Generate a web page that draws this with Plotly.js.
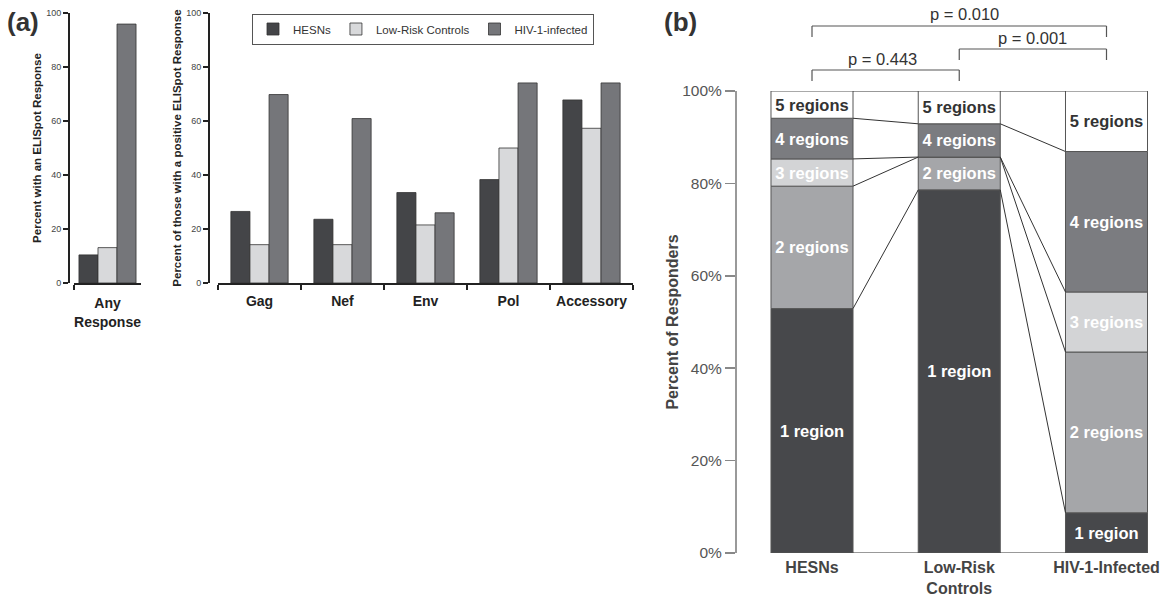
<!DOCTYPE html>
<html>
<head>
<meta charset="utf-8">
<script src="https://cdn.plot.ly/plotly-3.0.1.min.js"></script>
<style>html,body{margin:0;padding:0;background:#fff;}#chart{width:1168px;height:596px;}</style>
</head>
<body>
<div id="chart"></div>
<script>
// ---------- data ----------
const groupNames = ['HESNs', 'Low-Risk Controls', 'HIV-1-infected'];
const anyCategory = ['Any<br>Response'];
const anyHESN = [10.4];
const anyLow = [13.1];
const anyHIV = [95.9];

const proteinCategories = ['Gag', 'Nef', 'Env', 'Pol', 'Accessory'];
const proteinHESN = [26.5, 23.6, 33.5, 38.3, 67.8];
const proteinLow = [14.2, 14.2, 21.5, 50.0, 57.3];
const proteinHIV = [69.8, 60.9, 26.0, 74.1, 74.1];
const countTicks = [0, 20, 40, 60, 80, 100];

const cohortLabels = ['HESNs', 'Low-Risk<br>Controls', 'HIV-1-Infected'];
const regionLabels = ['1 region', '2 regions', '3 regions', '4 regions', '5 regions'];
// percent of responders per cohort (HESNs, Low-Risk Controls, HIV-1-Infected)
const regions1 = [52.9, 78.6, 8.7];
const regions2 = [26.5, 7.1, 34.8];
const regions3 = [5.9, 0.0, 13.0];
const regions4 = [8.8, 7.2, 30.4];
const regions5 = [5.9, 7.1, 13.1];
const percentTicks = [0, 20, 40, 60, 80, 100];
const percentTickLabels = ['0%', '20%', '40%', '60%', '80%', '100%'];

const pLabels = ['p = 0.443', 'p = 0.001', 'p = 0.010'];
const pPairs = [[0, 1], [1, 2], [0, 2]];

// ---------- styles ----------
const FONT = 'Liberation Sans, Arial, sans-serif';
const groupColors = ['#444548', '#d8d9db', '#75767a'];
const regionColors = ['#47484b', '#a5a6a9', '#d3d4d6', '#7b7c80', '#ffffff'];
const regionTextColors = ['#ffffff', '#ffffff', '#ffffff', '#ffffff', '#333333'];
const W = 1168, H = 596;
const px = v => v / W;
const py = v => 1 - v / H;

const traces = [];
const groupSeries = [anyHESN, anyLow, anyHIV];
const proteinSeries = [proteinHESN, proteinLow, proteinHIV];
const anyWidth = 0.284;
const anyOffsets = [-0.426, -0.142, 0.142];

for (let g = 0; g < 3; g++) {
  traces.push({
    type: 'bar', x: anyCategory, y: groupSeries[g], xaxis: 'x', yaxis: 'y',
    name: groupNames[g], legendgroup: 'g' + g, showlegend: false,
    width: anyWidth, offset: anyOffsets[g],
    marker: {color: groupColors[g], line: {color: '#333', width: 0.8}},
    hoverinfo: 'skip'
  });
}
for (let g = 0; g < 3; g++) {
  traces.push({
    type: 'bar', x: proteinCategories, y: proteinSeries[g], xaxis: 'x2', yaxis: 'y2',
    name: groupNames[g], legendgroup: 'g' + g, showlegend: true,
    marker: {color: groupColors[g], line: {color: '#333', width: 0.8}},
    hoverinfo: 'skip'
  });
}

// panel (b): stacked via base
const regionSeries = [regions1, regions2, regions3, regions4, regions5];
const cohortPos = cohortLabels.map((_, i) => i);
const barW = 0.557;
const round3 = v => Math.round(v * 1000) / 1000;
const cum = [[0, 0, 0]];
for (let r = 0; r < 5; r++) {
  cum.push(cum[r].map((v, i) => round3(v + regionSeries[r][i])));
}
for (let r = 0; r < 5; r++) {
  traces.push({
    type: 'bar', x: cohortPos, y: regionSeries[r].map((v, i) => round3(cum[r + 1][i] - cum[r][i])), base: cum[r],
    xaxis: 'x3', yaxis: 'y3', offsetgroup: 'stack', width: barW,
    showlegend: false, cliponaxis: false,
    marker: {color: regionColors[r], line: {color: '#555', width: 1}},
    text: regionSeries[r].map(v => v > 0 ? regionLabels[r] : ''),
    textposition: 'inside', insidetextanchor: 'middle', textangle: 0,
    constraintext: 'none',
    textfont: {family: FONT, size: 16.5, weight: 'bold', color: regionTextColors[r]},
    hoverinfo: 'skip'
  });
}
// connectors between bars
const cx = [], cy = [];
for (let k = 0; k <= 5; k++) {
  for (let i = 0; i < 2; i++) {
    cx.push(cohortPos[i] + barW / 2, cohortPos[i + 1] - barW / 2, null);
    cy.push(cum[k][i], cum[k][i + 1], null);
  }
}
traces.push({
  type: 'scatter', mode: 'lines', x: cx, y: cy, xaxis: 'x3', yaxis: 'y3',
  line: {color: '#333', width: 1}, showlegend: false, cliponaxis: false,
  hoverinfo: 'skip', connectgaps: false
});

// brackets
const bracketTop = [1.0455, 1.0909, 1.1407];
const bracketEnd = [1.0216, 1.0671, 1.1169];
const pTextY = [1.0693, 1.1147, 1.1667];
const pTextDx = [-0.018, -0.005, 0.039];
const shapes = [];
const annotations = [];
for (let b = 0; b < 3; b++) {
  const [a, c] = pPairs[b];
  shapes.push({type: 'line', xref: 'x3', yref: 'y3 domain', x0: cohortPos[a], x1: cohortPos[c], y0: bracketTop[b], y1: bracketTop[b], line: {color: '#555', width: 1.2}});
  shapes.push({type: 'line', xref: 'x3', yref: 'y3 domain', x0: cohortPos[a], x1: cohortPos[a], y0: bracketTop[b], y1: bracketEnd[b], line: {color: '#555', width: 1.2}});
  shapes.push({type: 'line', xref: 'x3', yref: 'y3 domain', x0: cohortPos[c], x1: cohortPos[c], y0: bracketTop[b], y1: bracketEnd[b], line: {color: '#555', width: 1.2}});
  annotations.push({
    xref: 'x3', yref: 'y3 domain', x: (cohortPos[a] + cohortPos[c]) / 2 + pTextDx[b], y: pTextY[b],
    text: pLabels[b], showarrow: false, xanchor: 'center', yanchor: 'middle',
    font: {family: FONT, size: 16.5, color: '#333'}
  });
}
annotations.push({xref: 'paper', yref: 'paper', x: px(23), y: py(22), text: '(a)', showarrow: false,
  font: {family: FONT, size: 26, weight: 'bold', color: '#333'}, xanchor: 'center', yanchor: 'middle'});
annotations.push({xref: 'paper', yref: 'paper', x: px(680), y: py(22), text: '(b)', showarrow: false,
  font: {family: FONT, size: 26, weight: 'bold', color: '#333'}, xanchor: 'center', yanchor: 'middle'});

const smallTick = {family: FONT, size: 9, color: '#444'};
const catFont = {family: FONT, size: 14, weight: 'bold', color: '#222'};
const yTitleFont = {family: FONT, size: 11.5, weight: 'bold', color: '#222'};

const layout = {
  width: W, height: H,
  margin: {l: 0, r: 0, t: 0, b: 0},
  paper_bgcolor: '#fff', plot_bgcolor: 'rgba(0,0,0,0)',
  barmode: 'group', bargap: 0.31, bargroupgap: 0,
  font: {family: FONT, color: '#333'},
  showlegend: true,
  legend: {
    orientation: 'h', x: px(423), y: py(29), xanchor: 'center', yanchor: 'middle',
    bordercolor: '#555', borderwidth: 1, bgcolor: '#fff',
    font: {family: FONT, size: 11.5, color: '#333'},
    itemwidth: 30, tracegroupgap: 0, traceorder: 'normal'
  },
  xaxis: {
    domain: [px(74), px(141)], anchor: 'y', type: 'category', range: [-0.5, 0.5],
    showline: true, linecolor: '#222', linewidth: 1.5, tickangle: 0,
    ticks: 'outside', tickson: 'boundaries', ticklen: 5, tickcolor: '#222', tickwidth: 1.5,
    ticklabelstandoff: 7,
    tickfont: catFont, showgrid: false, zeroline: false
  },
  yaxis: {
    domain: [py(283), py(13)], anchor: 'free', position: px(68), range: [0, 100],
    tickvals: countTicks, ticks: 'outside', ticklen: 5, tickcolor: '#222', tickwidth: 1.2,
    showline: true, linecolor: '#222', linewidth: 1.5, showgrid: false, zeroline: false,
    tickfont: smallTick,
    title: {text: 'Percent with an ELISpot Response', font: yTitleFont, standoff: 0}
  },
  xaxis2: {
    domain: [px(218), px(633)], anchor: 'y2', type: 'category', tickangle: 0,
    showline: true, linecolor: '#222', linewidth: 1.5,
    ticks: 'outside', tickson: 'boundaries', ticklen: 5, tickcolor: '#222', tickwidth: 1.5,
    ticklabelstandoff: 5,
    tickfont: catFont, showgrid: false, zeroline: false
  },
  yaxis2: {
    domain: [py(283), py(13)], anchor: 'free', position: px(208), range: [0, 100],
    tickvals: countTicks, ticks: 'outside', ticklen: 5, tickcolor: '#222', tickwidth: 1.2,
    showline: true, linecolor: '#222', linewidth: 1.5, showgrid: false, zeroline: false,
    tickfont: smallTick,
    title: {text: 'Percent of those with a positive ELISpot Response', font: yTitleFont, standoff: 0}
  },
  xaxis3: {
    domain: [px(737), px(1160)], anchor: 'y3', range: [-0.5093, 2.3633],
    tickmode: 'array', tickvals: cohortPos, ticktext: cohortLabels, ticks: '', showline: false,
    ticklabelstandoff: 3, tickangle: 0,
    tickfont: {family: FONT, size: 16, weight: 'bold', color: '#444'},
    showgrid: false, zeroline: false
  },
  yaxis3: {
    domain: [py(553), py(91)], anchor: 'x3', range: [0, 100],
    tickmode: 'array', tickvals: percentTicks, ticktext: percentTickLabels,
    ticks: 'outside', ticklen: 10, tickcolor: '#888', tickwidth: 1.5,
    showline: true, linecolor: '#999', linewidth: 2, showgrid: false, zeroline: false,
    tickfont: {family: FONT, size: 15.5, color: '#555'},
    title: {text: 'Percent of Responders', font: {family: FONT, size: 16, weight: 'bold', color: '#444'}, standoff: 0}
  },
  shapes: shapes,
  annotations: annotations
};

Plotly.newPlot('chart', traces, layout, {staticPlot: true, displayModeBar: false});
</script>
</body>
</html>
